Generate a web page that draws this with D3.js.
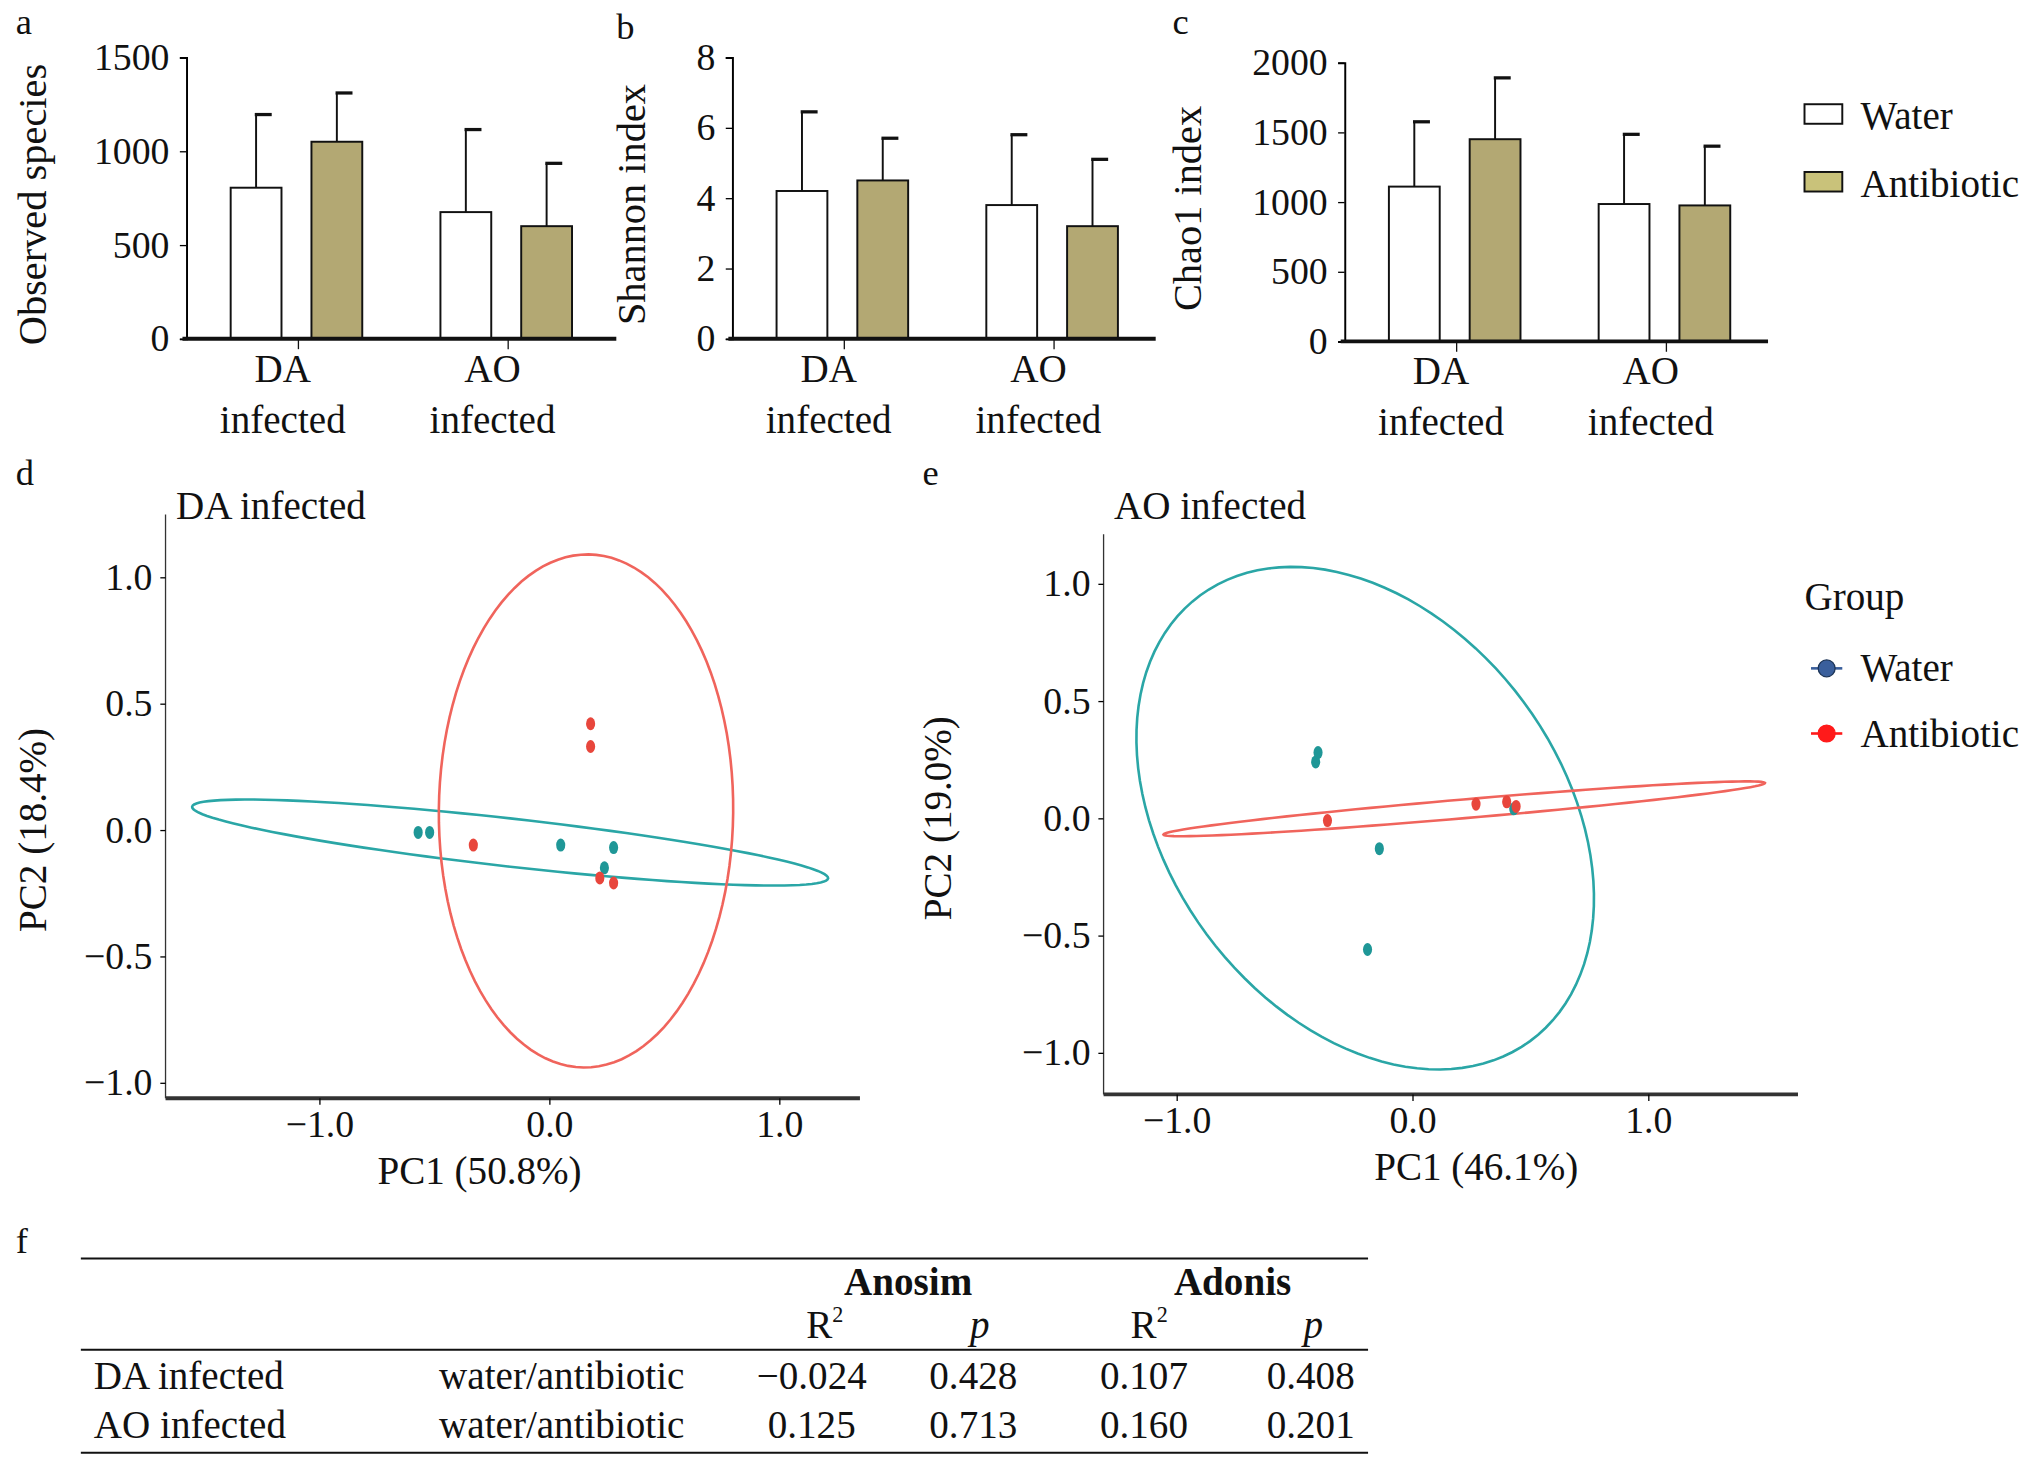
<!DOCTYPE html>
<html><head><meta charset="utf-8">
<script src="https://cdn.jsdelivr.net/npm/d3@7"></script>
<style>body{margin:0;background:#fff}text{font-family:"Liberation Serif","DejaVu Serif",serif;fill:#111}</style>
</head><body>
<svg id="fig" width="2043" height="1467" viewBox="0 0 1568 1126"></svg>
<script>
// ---- data ----
const groups = ["DA infected", "AO infected"];
const series = ["Water", "Antibiotic"];
const observedMean = [[805, 1050], [675, 600]];
const observedErr  = [[1195, 1310], [1115, 935]];
const shannonMean = [[4.2, 4.5], [3.8, 3.2]];
const shannonErr  = [[6.45, 5.7], [5.8, 5.1]];
const chaoMean = [[1110, 1450], [985, 975]];
const chaoErr  = [[1575, 1890], [1485, 1400]];

// PCoA points [x, y]
const daWater = [[-0.57, -0.01], [-0.52, -0.01], [0.05, -0.06], [0.28, -0.07], [0.24, -0.15]];
const daAnti  = [[0.18, 0.42], [0.18, 0.33], [-0.33, -0.06], [0.22, -0.19], [0.28, -0.21]];
const aoWater = [[-0.41, 0.24], [-0.40, 0.28], [-0.14, -0.13], [-0.19, -0.56], [0.43, 0.04]];
const aoAnti  = [[-0.36, -0.01], [0.27, 0.06], [0.40, 0.07], [0.44, 0.05]];
// ellipses: [cx, cy, a, b, angle(rad)]
const daWaterEll = [-0.17, -0.05, 1.39, 0.095, -0.102];
const daAntiEll  = [0.16, 0.075, 1.015, 0.64, 1.56];
const aoWaterEll = [-0.2, 0.0, 1.18, 0.835, 2.205];
const aoAntiEll  = [0.22, 0.04, 1.28, 0.04, 0.086];

const tableHead = ["Anosim", "Adonis"];
const tableRows = [
  ["DA infected", "water/antibiotic", "\u22120.024", "0.428", "0.107", "0.408"],
  ["AO infected", "water/antibiotic", "0.125", "0.713", "0.160", "0.201"]
];

const svg = d3.select("#fig");
const fill = ["#ffffff", "#b3a873"];
const teal = "#1f9797", red = "#e8463c";

function label(x, y, t, size, opts = {}) {
  return svg.append("text").attr("x", x).attr("y", y).attr("font-size", size)
    .attr("text-anchor", opts.anchor || "start").attr("font-weight", opts.bold ? "bold" : null)
    .attr("transform", opts.rot ? `rotate(-90,${x},${y})` : null).text(t);
}

// ---- bar panels ----
function barPanel(x0, x1, y0, y1, max, ticks, means, errs, ylab, ylx) {
  const y = d3.scaleLinear().domain([0, max]).range([y0, y1]);
  const xg = d3.scalePoint().domain(groups).range([x0 + 86, x0 + 247]);
  const xs = d3.scaleOrdinal().domain(series).range([-52, 10]);
  const w = 39;
  const g = svg.append("g");
  const ax = g.append("g").attr("transform", `translate(${x0},0)`)
    .call(d3.axisLeft(y).tickValues(ticks).tickFormat(d3.format("d")).tickSize(5).tickPadding(8));
  ax.select(".domain").attr("stroke-width", 1.5);
  ax.selectAll("text").attr("font-size", 29).attr("font-family", "Liberation Serif");
  groups.forEach((grp, i) => {
    const gc = xg(grp);
    series.forEach((s, j) => {
      const bx = gc + xs(s), cx = bx + w / 2;
      g.append("line").attr("x1", cx).attr("x2", cx).attr("y1", y(means[i][j])).attr("y2", y(errs[i][j])).attr("stroke", "#111").attr("stroke-width", 1.5);
      g.append("line").attr("x1", cx - 1).attr("x2", cx + 12).attr("y1", y(errs[i][j])).attr("y2", y(errs[i][j])).attr("stroke", "#111").attr("stroke-width", 2.5);
      g.append("rect").attr("x", bx).attr("y", y(means[i][j])).attr("width", w).attr("height", y0 - y(means[i][j]))
        .attr("fill", fill[j]).attr("stroke", "#111").attr("stroke-width", 1.5);
    });
    g.append("line").attr("x1", gc).attr("x2", gc).attr("y1", y0).attr("y2", y0 + 8).attr("stroke", "#111");
    const parts = grp.split(" ");
    label(gc - 12, y0 + 33, parts[0], 30, {anchor: "middle"});
    label(gc - 12, y0 + 72, parts[1], 30, {anchor: "middle"});
  });
  g.append("line").attr("x1", x0 - 3).attr("x2", x1).attr("y1", y0).attr("y2", y0).attr("stroke", "#111").attr("stroke-width", 3);
  label(ylx, (y0 + y1) / 2 + 5, ylab, 31, {anchor: "middle", rot: true});
}
barPanel(143, 473, 260, 44, 1500, [0, 500, 1000, 1500], observedMean, observedErr, "Observed species", 35);
barPanel(562, 887, 260, 44, 8, [0, 2, 4, 6, 8], shannonMean, shannonErr, "Shannon index", 495);
barPanel(1032, 1357, 262, 48, 2000, [0, 500, 1000, 1500, 2000], chaoMean, chaoErr, "Chao1 index", 922);

label(12, 26, "a", 28); label(473, 30, "b", 28); label(900, 26, "c", 28);
label(12, 372, "d", 28); label(708, 372, "e", 28); label(12, 962, "f", 28);

// legend bars
series.forEach((s, j) => {
  const ly = 80 + j * 52;
  svg.append("rect").attr("x", 1385).attr("y", ly).attr("width", 29).attr("height", 15).attr("fill", j ? "#c9c27a" : "#fff").attr("stroke", "#111").attr("stroke-width", 1.5);
  label(1428, ly + 19, s, 30);
});

// ---- PCoA panels ----
function ellipsePath(e, x, y) {
  const [cx, cy, a, b, th] = e;
  const pts = d3.range(0, 361, 3).map(d => {
    const t = d * Math.PI / 180;
    return [x(cx + a * Math.cos(t) * Math.cos(th) - b * Math.sin(t) * Math.sin(th)),
            y(cy + a * Math.cos(t) * Math.sin(th) + b * Math.sin(t) * Math.cos(th))];
  });
  return d3.line().curve(d3.curveLinearClosed)(pts);
}
function pcoa(opt) {
  const x = d3.scaleLinear().domain([-1, 1]).range(opt.xr);
  const y = d3.scaleLinear().domain([-1, 1]).range(opt.yr);
  const fmt = d => d3.format(".1f")(d).replace("-", "\u2212");
  const g = svg.append("g");
  const ax = g.append("g").attr("transform", `translate(${opt.left},0)`)
    .call(d3.axisLeft(y).tickValues([-1, -0.5, 0, 0.5, 1]).tickFormat(fmt).tickSize(4).tickPadding(6).tickSizeOuter(0));
  ax.select(".domain").attr("d", `M0,${opt.top}V${opt.bottom}`).attr("stroke", "#333");
  const bx = g.append("g").attr("transform", `translate(0,${opt.bottom})`)
    .call(d3.axisBottom(x).tickValues([-1, 0, 1]).tickFormat(fmt).tickSize(5).tickPadding(4).tickSizeOuter(0));
  bx.select(".domain").attr("d", `M${opt.left},0H${opt.right}`).attr("stroke", "#333").attr("stroke-width", 3);
  g.selectAll(".tick text").attr("font-size", 29).attr("font-family", "Liberation Serif");
  g.append("path").attr("d", ellipsePath(opt.wEll, x, y)).attr("fill", "none").attr("stroke", "#2aa6a6").attr("stroke-width", 2);
  g.append("path").attr("d", ellipsePath(opt.aEll, x, y)).attr("fill", "none").attr("stroke", "#f0645c").attr("stroke-width", 2);
  g.selectAll(".pw").data(opt.w).enter().append("ellipse").attr("cx", d => x(d[0])).attr("cy", d => y(d[1])).attr("rx", 3.5).attr("ry", 5).attr("fill", teal);
  g.selectAll(".pa").data(opt.a).enter().append("ellipse").attr("cx", d => x(d[0])).attr("cy", d => y(d[1])).attr("rx", 3.5).attr("ry", 5).attr("fill", red);
  label(opt.left + 8, 398, opt.title, 30);
  label(opt.xlx, opt.bottom + 66, opt.xlab, 30, {anchor: "middle"});
  label(opt.ylx, y(0), opt.ylab, 30, {anchor: "middle", rot: true});
}
pcoa({xr: [245, 598], yr: [831, 443], left: 127, right: 660, top: 395, bottom: 843, xlx: 368,
  w: daWater, a: daAnti, wEll: daWaterEll, aEll: daAntiEll, title: "DA infected", xlab: "PC1 (50.8%)", ylab: "PC2 (18.4%)", ylx: 35});
pcoa({xr: [903, 1265], yr: [808, 448], left: 847, right: 1380, top: 410, bottom: 840, xlx: 1133,
  w: aoWater, a: aoAnti, wEll: aoWaterEll, aEll: aoAntiEll, title: "AO infected", xlab: "PC1 (46.1%)", ylab: "PC2 (19.0%)", ylx: 730});

// group legend
label(1385, 468, "Group", 30);
series.forEach((s, j) => {
  const ly = 513 + j * 50;
  const c = j ? "#ff1a1a" : "#3a5f9c";
  svg.append("line").attr("x1", 1390).attr("x2", 1414).attr("y1", ly).attr("y2", ly).attr("stroke", c).attr("stroke-width", 2);
  svg.append("circle").attr("cx", 1402).attr("cy", ly).attr("r", 6.5).attr("fill", c).attr("stroke", j ? c : "#1d3557");
  label(1428, ly + 10, s, 30);
});

// ---- table f ----
const tl = 62, tr = 1050;
[966, 1036, 1115].forEach(ly => svg.append("line").attr("x1", tl).attr("x2", tr).attr("y1", ly).attr("y2", ly).attr("stroke", "#111").attr("stroke-width", 1.5));
const colX = [72, 337, 623, 747, 878, 1006];
label(697, 994, tableHead[0], 30, {anchor: "middle", bold: true});
label(946, 994, tableHead[1], 30, {anchor: "middle", bold: true});
[633, 882].forEach(xx => {
  const t = svg.append("text").attr("x", xx).attr("y", 1027).attr("font-size", 30).attr("text-anchor", "middle");
  t.append("tspan").text("R");
  t.append("tspan").attr("dy", -12).attr("font-size", 17).text("2");
});
label(752, 1027, "p", 30, {anchor: "middle"}).attr("font-style", "italic");
label(1008, 1027, "p", 30, {anchor: "middle"}).attr("font-style", "italic");
tableRows.forEach((row, i) => {
  const ry = 1066 + i * 38;
  row.forEach((c, k) => label(colX[k], ry, c, 30, {anchor: k < 2 ? "start" : "middle"}));
});
</script>
</body></html>
